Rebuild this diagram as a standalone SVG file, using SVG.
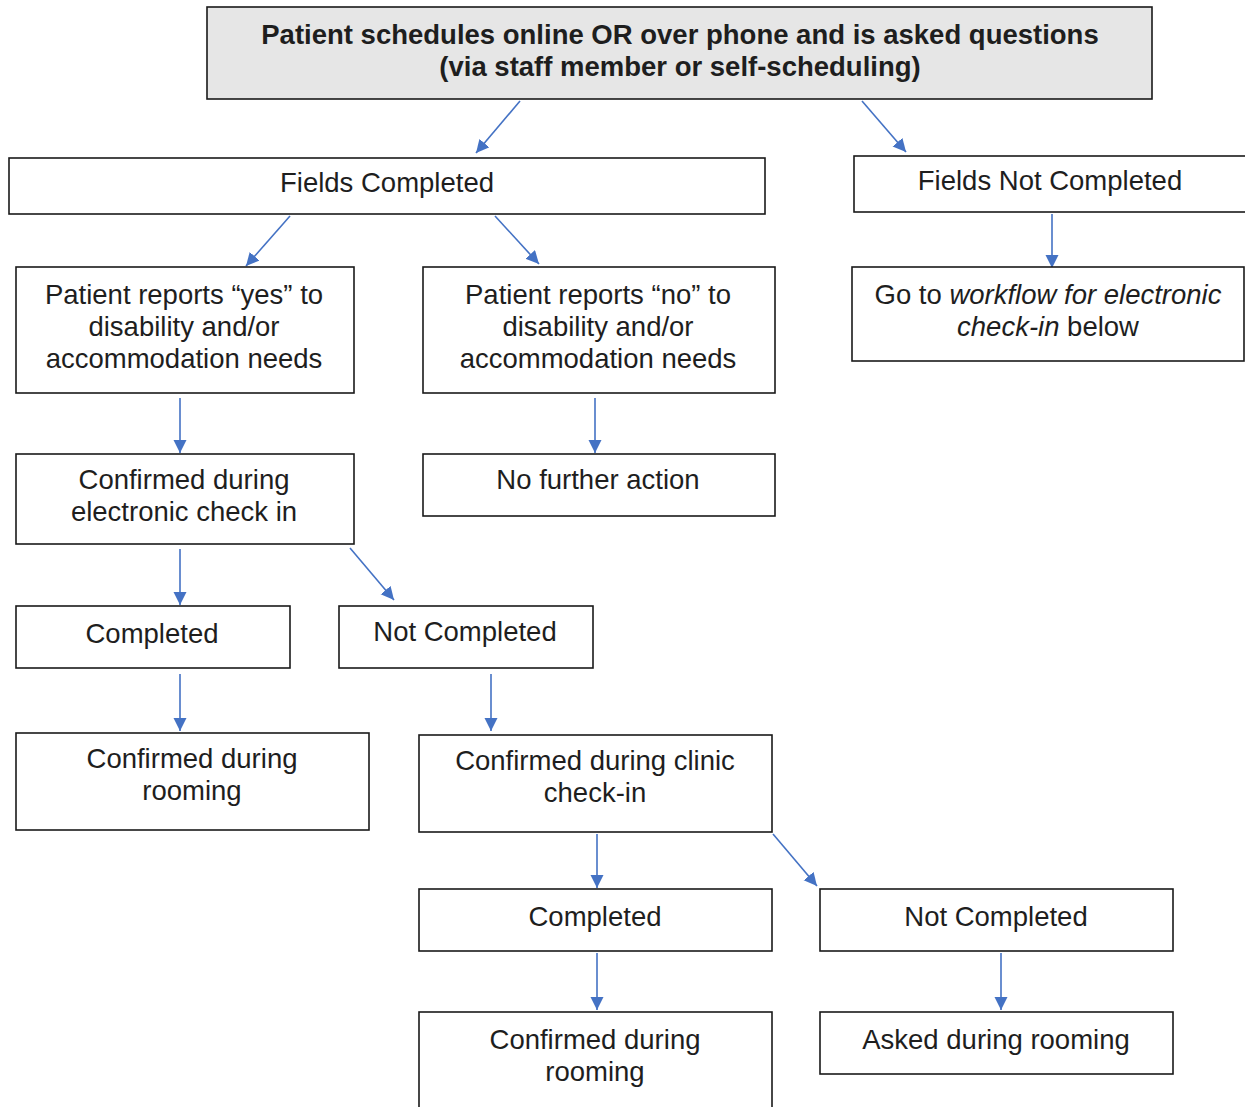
<svg xmlns="http://www.w3.org/2000/svg" width="1245" height="1107" viewBox="0 0 1245 1107">
<style>
.box{fill:#fff;stroke:#1a1a1a;stroke-width:1.6}
.top{fill:#e6e6e6;stroke:#1a1a1a;stroke-width:1.6}
text{font-family:"Liberation Sans",Arial,sans-serif;font-size:27.5px;fill:#1e1e1e;text-anchor:middle}
.b{font-weight:bold}
.c{fill:none;stroke:#4472c4;stroke-width:1.6;marker-end:url(#ah)}
</style>
<defs>
<marker id="ah" markerUnits="userSpaceOnUse" markerWidth="14" markerHeight="14" refX="13" refY="6.5" orient="auto">
<path d="M0,0 L13,6.5 L0,13 Z" fill="#4472c4"/>
</marker>
</defs>
<rect width="1245" height="1107" fill="#fff"/>
<g id="connectors">
<line class="c" x1="520" y1="101" x2="476" y2="153"/>
<line class="c" x1="862" y1="101" x2="906" y2="152"/>
<line class="c" x1="290" y1="216" x2="246" y2="266"/>
<line class="c" x1="495" y1="216" x2="539" y2="264"/>
<line class="c" x1="1052" y1="214" x2="1052" y2="268"/>
<line class="c" x1="180" y1="398" x2="180" y2="453"/>
<line class="c" x1="595" y1="398" x2="595" y2="453"/>
<line class="c" x1="180" y1="549" x2="180" y2="605"/>
<line class="c" x1="350" y1="548" x2="394" y2="600"/>
<line class="c" x1="180" y1="674" x2="180" y2="731"/>
<line class="c" x1="491" y1="674" x2="491" y2="731"/>
<line class="c" x1="597" y1="834" x2="597" y2="888"/>
<line class="c" x1="773" y1="834" x2="817" y2="886"/>
<line class="c" x1="597" y1="953" x2="597" y2="1010"/>
<line class="c" x1="1001" y1="953" x2="1001" y2="1010"/>
</g>
<g id="n-start">
<rect class="top" x="207" y="7" width="945" height="92"/>
<text class="b" x="680" y="44">Patient schedules online OR over phone and is asked questions</text>
<text class="b" x="680" y="76">(via staff member or self-scheduling)</text>
</g>
<g id="n-fields-completed">
<rect class="box" x="9" y="158" width="756" height="56"/>
<text x="387" y="192">Fields Completed</text>
</g>
<g id="n-fields-not-completed">
<rect class="box" x="854" y="156" width="400" height="56"/>
<text x="1050" y="190">Fields Not Completed</text>
</g>
<g id="n-goto">
<rect class="box" x="852" y="267" width="392" height="94"/>
<text x="1048" y="304">Go to <tspan font-style="italic">workflow for electronic</tspan></text>
<text x="1048" y="336"><tspan font-style="italic">check-in</tspan> below</text>
</g>
<g id="n-yes">
<rect class="box" x="16" y="267" width="338" height="126"/>
<text x="184" y="304">Patient reports “yes” to</text>
<text x="184" y="336">disability and/or</text>
<text x="184" y="368">accommodation needs</text>
</g>
<g id="n-no">
<rect class="box" x="423" y="267" width="352" height="126"/>
<text x="598" y="304">Patient reports “no” to</text>
<text x="598" y="336">disability and/or</text>
<text x="598" y="368">accommodation needs</text>
</g>
<g id="n-confirmed-echeck">
<rect class="box" x="16" y="454" width="338" height="90"/>
<text x="184" y="489">Confirmed during</text>
<text x="184" y="521">electronic check in</text>
</g>
<g id="n-no-further">
<rect class="box" x="423" y="454" width="352" height="62"/>
<text x="598" y="489">No further action</text>
</g>
<g id="n-completed1">
<rect class="box" x="16" y="606" width="274" height="62"/>
<text x="152" y="643">Completed</text>
</g>
<g id="n-notcompleted1">
<rect class="box" x="339" y="606" width="254" height="62"/>
<text x="465" y="641">Not Completed</text>
</g>
<g id="n-rooming1">
<rect class="box" x="16" y="733" width="353" height="97"/>
<text x="192" y="768">Confirmed during</text>
<text x="192" y="800">rooming</text>
</g>
<g id="n-clinic">
<rect class="box" x="419" y="735" width="353" height="97"/>
<text x="595" y="770">Confirmed during clinic</text>
<text x="595" y="802">check-in</text>
</g>
<g id="n-completed2">
<rect class="box" x="419" y="889" width="353" height="62"/>
<text x="595" y="926">Completed</text>
</g>
<g id="n-notcompleted2">
<rect class="box" x="820" y="889" width="353" height="62"/>
<text x="996" y="926">Not Completed</text>
</g>
<g id="n-rooming2">
<rect class="box" x="419" y="1012" width="353" height="110"/>
<text x="595" y="1049">Confirmed during</text>
<text x="595" y="1081">rooming</text>
</g>
<g id="n-asked">
<rect class="box" x="820" y="1012" width="353" height="62"/>
<text x="996" y="1049">Asked during rooming</text>
</g>
</svg>
